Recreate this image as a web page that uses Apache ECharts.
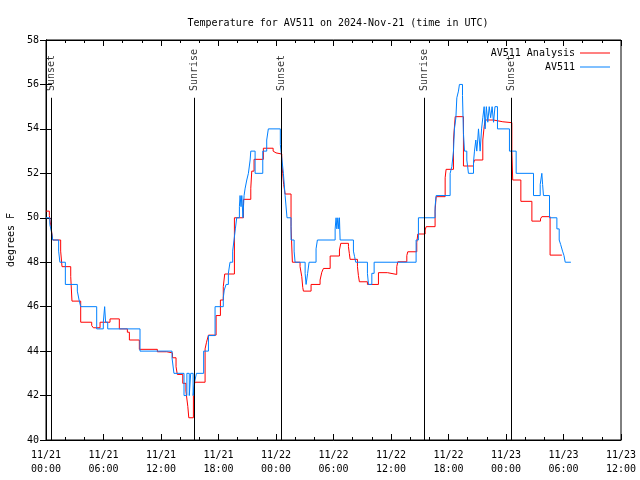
<!DOCTYPE html>
<html><head><meta charset="utf-8">
<script src="https://cdn.jsdelivr.net/npm/echarts@6/dist/echarts.min.js"></script>
<style>html,body{margin:0;padding:0;background:#fff}#c{width:640px;height:480px}</style>
</head><body><div id="c"></div>
<script>
// hours since 2024-11-21 00:00 UTC; each value holds until the next time
const redT = [0,0.35,0.55,0.7,1.53,1.67,2.58,2.71,3.62,4.77,4.94,5.64,6.68,7.65,8.49,8.7,9.74,11.62,12.6,13.2,13.57,13.7,14.27,14.6,14.8,14.9,15.38,15.52,16.6,16.75,16.95,17.75,18.2,18.5,18.65,19.66,20.6,21.37,21.47,21.71,22.68,23.7,23.85,24.0,24.6,24.7,24.8,24.95,25.57,25.71,26.51,26.69,26.79,26.86,27.66,28.6,28.78,28.95,29.65,30.62,30.76,31.56,31.65,31.73,32.5,32.6,32.7,33.54,34.69,35.63,36.6,36.71,37.65,37.75,38.69,38.8,39.56,39.67,40.6,40.71,41.65,41.75,42.52,42.7,43.56,44.61,44.71,45.58,45.72,45.82,46.69,47.67,48.61,48.7,49.55,50.7,51.6,51.74,52.6,53.83];
const redV = [50.3,50.1,49.5,49.0,48.5,47.8,47.35,46.25,45.3,45.15,45.05,45.3,45.45,45.0,44.85,44.5,44.08,43.97,43.92,43.7,43.3,42.95,42.55,42.2,41.5,41.0,42.0,42.6,44.1,44.4,44.72,45.6,46.3,46.9,47.47,50.0,50.83,51.33,52.1,52.63,53.13,53.0,52.92,52.87,52.5,52.0,51.5,51.07,49.6,48.0,47.8,47.35,46.87,46.7,47.0,47.2,47.55,47.72,48.28,48.55,48.85,48.7,48.4,48.13,47.8,47.4,47.12,47.0,47.53,47.45,47.8,48.02,48.3,48.47,48.88,49.27,49.45,49.6,50.3,50.95,51.8,52.18,53.5,54.55,52.33,52.45,52.6,53.5,54.1,54.4,54.32,54.28,53.0,51.7,50.74,49.85,49.95,50.05,48.32,48.32];
const blueT = [0,0.4,0.6,0.7,1.32,1.45,2.02,3.27,3.45,3.62,5.29,5.98,6.12,6.22,6.44,9.81,13.15,13.35,14.4,14.7,14.95,15.1,15.35,15.5,15.7,16.45,16.95,17.64,18.5,18.6,18.79,19.03,19.2,19.48,19.62,19.76,19.9,20.18,20.25,20.35,20.43,20.55,20.62,20.67,20.77,20.95,21.12,21.3,21.37,21.82,22.62,23.03,23.2,24.45,24.6,24.77,24.95,25.15,25.57,25.89,25.99,27.04,27.14,27.3,27.45,28.18,28.32,30.17,30.27,30.35,30.45,30.55,30.62,30.69,32.08,32.2,32.32,33.54,33.65,34.0,34.24,38.62,38.86,40.6,40.71,42.17,42.35,42.52,42.62,42.77,42.87,43.04,43.14,43.46,43.56,43.67,43.91,44.0,44.08,44.61,44.71,44.85,44.95,45.05,45.13,45.3,45.45,45.58,45.72,45.82,45.95,46.1,46.25,46.4,46.55,46.7,46.85,47.11,48.36,49.06,50.87,51.57,51.74,51.82,51.91,52.54,53.31,53.55,53.7,53.9,54.05,54.18,54.77];
const blueV = [50.0,49.7,49.3,49.0,48.5,48.0,47.0,46.7,46.3,46.0,45.0,45.3,46.0,45.3,45.0,44.0,43.7,43.0,42.0,43.0,42.0,43.0,42.0,42.6,43.0,44.0,44.7,46.0,46.4,46.75,47.0,47.5,48.0,48.5,49.0,49.5,50.0,50.5,51.0,50.5,51.0,50.0,50.6,51.0,51.3,51.7,52.0,52.6,53.0,52.0,53.0,53.5,54.0,53.3,52.7,52.0,51.0,50.0,49.0,48.5,48.0,47.5,47.0,47.5,48.0,48.6,49.0,49.5,50.0,49.5,50.0,49.5,50.0,49.0,48.5,48.25,48.0,47.5,47.0,47.5,48.0,49.0,50.0,50.5,51.0,52.0,52.3,53.0,54.0,54.5,55.4,55.7,56.0,55.5,53.8,53.0,52.6,52.3,52.0,52.5,53.0,53.5,53.0,53.5,54.0,53.0,54.0,54.5,55.0,54.0,55.0,54.3,55.0,54.5,55.0,54.3,55.0,54.0,53.0,52.0,51.0,51.5,52.0,51.5,51.0,50.0,49.5,49.0,48.8,48.5,48.3,48.0,48.0];
const sunT = [0.52,15.44,24.52,39.44,48.52];
const sunLabels = ['Sunset','Sunrise','Sunset','Sunrise','Sunset'];
const tickLabels = ['11/21\n00:00','11/21\n06:00','11/21\n12:00','11/21\n18:00','11/22\n00:00','11/22\n06:00','11/22\n12:00','11/22\n18:00','11/23\n00:00','11/23\n06:00','11/23\n12:00'];

const FONT = 'DejaVu Sans Mono';
const pair = (t, v) => t.map((x, i) => [x, v[i]]);
const chart = echarts.init(document.getElementById('c'), null, {renderer: 'canvas'});
const xBase = {type:'value', min:0, max:60, interval:6,
  axisLine:{show:true, lineStyle:{color:'#000'}},
  axisTick:{show:true, inside:true, length:6, lineStyle:{color:'#000'}},
  minorTick:{show:true, splitNumber:3, length:3, lineStyle:{color:'#000'}},
  splitLine:{show:false}};
const yBase = {type:'value', min:40, max:58, interval:2,
  axisLine:{show:true, lineStyle:{color:'#000'}},
  axisTick:{show:true, inside:true, length:6, lineStyle:{color:'#000'}},
  splitLine:{show:false}};
chart.setOption({
  animation:false,
  backgroundColor:'#fff',
  title:{text:'Temperature for AV511 on 2024-Nov-21 (time in UTC)', left:333, top:13, textAlign:'center',
    textStyle:{fontFamily:FONT, fontSize:10, fontWeight:'normal', color:'#000'}},
  legend:[
    {data:['AV511 Analysis'], right:25, top:43, align:'right', icon:'rect', itemWidth:30, itemHeight:1, itemGap:0,
      textStyle:{fontFamily:FONT, fontSize:10, color:'#000'}},
    {data:['AV511'], right:25, top:57, align:'right', icon:'rect', itemWidth:30, itemHeight:1, itemGap:0,
      textStyle:{fontFamily:FONT, fontSize:10, color:'#000'}}
  ],
  grid:{left:46, right:19, top:40, bottom:40, show:true, borderColor:'#000', borderWidth:1,
    containLabel:false, outerBoundsMode:'none'},
  xAxis:[
    Object.assign({}, xBase, {position:'bottom',
      axisLabel:{fontFamily:FONT, fontSize:10, color:'#000', margin:8, lineHeight:14,
        formatter:(v)=>tickLabels[Math.round(v/6)]}}),
    Object.assign({}, xBase, {position:'top', axisLabel:{show:false}})
  ],
  yAxis:[
    Object.assign({}, yBase, {position:'left', name:'degrees F', nameLocation:'middle', nameGap:30, nameRotate:90,
      nameTextStyle:{fontFamily:FONT, fontSize:10, color:'#000'},
      axisLabel:{fontFamily:FONT, fontSize:10, color:'#000', margin:7}}),
    Object.assign({}, yBase, {position:'right', axisLabel:{show:false}})
  ],
  series:[
    {name:'sun', type:'scatter', xAxisIndex:0, yAxisIndex:0, symbolSize:0, silent:true, z:1,
      data: sunT.map((t,i)=>({value:[t,55.66], name:sunLabels[i]})),
      label:{show:true, position:'inside', rotate:90, align:'left', verticalAlign:'middle', offset:[1,0],
        formatter:(p)=>p.name, fontFamily:FONT, fontSize:10, color:'#000'},
      markLine:{silent:true, symbol:'none', label:{show:false}, lineStyle:{color:'#000', width:1, type:'solid'},
        data: sunT.map(t=>[{coord:[t,55.4]},{coord:[t,40]}])}},
    {name:'AV511 Analysis', type:'line', step:'end', xAxisIndex:0, yAxisIndex:0, showSymbol:false, z:2,
      color:'#ff0000', lineStyle:{width:1, color:'#ff0000'}, data: pair(redT, redV)},
    {name:'AV511', type:'line', step:'end', xAxisIndex:0, yAxisIndex:0, showSymbol:false, z:3,
      color:'#0080ff', lineStyle:{width:1, color:'#0080ff'}, data: pair(blueT, blueV)}
  ]
});
</script></body></html>
